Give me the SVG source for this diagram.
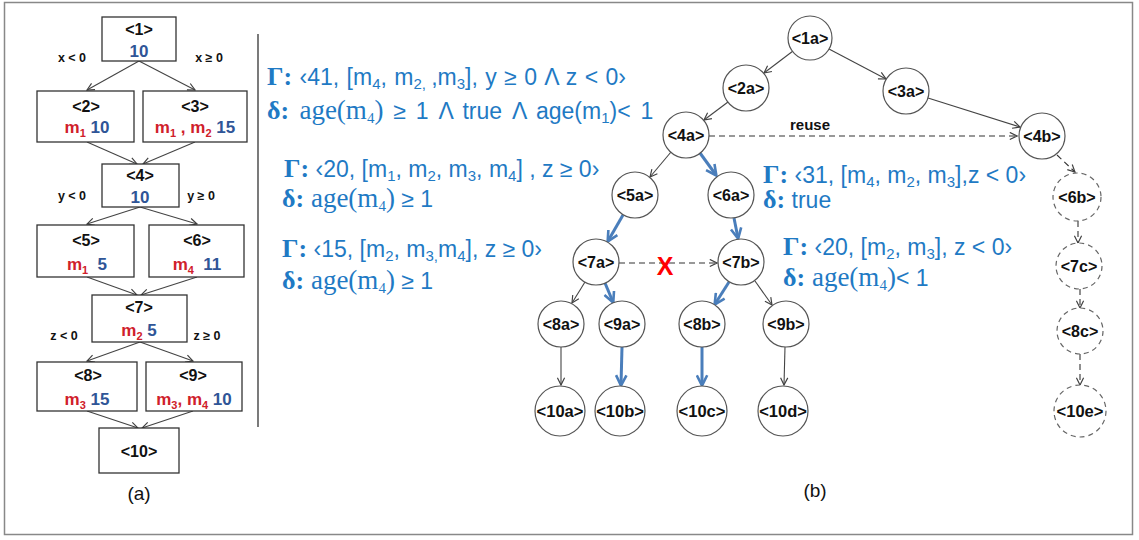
<svg xmlns="http://www.w3.org/2000/svg" width="1139" height="540" viewBox="0 0 1139 540">
<style>
.box{fill:#fff;stroke:#333;stroke-width:1.3}
.lbl{font-family:"Liberation Sans",Arial,sans-serif;font-weight:bold;font-size:16px;fill:#111;text-anchor:middle}
.v{font-family:"Liberation Sans",Arial,sans-serif;font-weight:bold;font-size:17px;text-anchor:middle}
.b{fill:#2f5597}
.r{fill:#d0202a}
.s{font-size:11px}
.el{font-family:"Liberation Sans",Arial,sans-serif;font-weight:bold;font-size:12.5px;fill:#111;text-anchor:middle}
.e{fill:none;stroke:#444;stroke-width:1.1}
.eb{fill:none;stroke:#4a7ebb;stroke-width:3}
.ed{fill:none;stroke:#333;stroke-width:1.1;stroke-dasharray:6 4}
.c{fill:#fff;stroke:#555;stroke-width:1.2}
.cd{fill:#fff;stroke:#666;stroke-width:1.2;stroke-dasharray:5 4}
.nl{font-family:"Liberation Sans",Arial,sans-serif;font-weight:bold;font-size:16px;fill:#111;text-anchor:middle}
.nl2{font-family:"Liberation Sans",Arial,sans-serif;font-weight:bold;font-size:16.5px;fill:#111;text-anchor:middle}
.ann{font-family:"Liberation Sans",Arial,sans-serif;font-size:23px;fill:#1f7ac4}
.G{font-family:"Liberation Serif","Times New Roman",serif;font-weight:bold;font-size:26px}
.ser{font-family:"Liberation Serif","Times New Roman",serif;font-size:27px}
.sb{font-size:15px}
.cap{font-family:"Liberation Sans",Arial,sans-serif;font-size:19px;fill:#111;text-anchor:middle}
</style>
<defs>
<marker id="ag" viewBox="0 0 10 10" refX="9" refY="5" markerWidth="9" markerHeight="9" markerUnits="userSpaceOnUse" orient="auto"><path d="M1,1 L9,5 L1,9" fill="none" stroke="#404040" stroke-width="1.3"/></marker>
<marker id="ab" viewBox="0 0 10 10" refX="8.5" refY="5" markerWidth="13" markerHeight="13" markerUnits="userSpaceOnUse" orient="auto"><path d="M1,1 L9,5 L1,9" fill="none" stroke="#4a7ebb" stroke-width="2"/></marker>
</defs>
<rect x="4.5" y="2.5" width="1128" height="532" fill="#fff" stroke="#888" stroke-width="1.5"/>
<line x1="258" y1="34" x2="258" y2="427" stroke="#333" stroke-width="1.3"/>

<g id="connectors-a">
<line class="e" x1="139" y1="61" x2="87" y2="90" marker-end="url(#ag)"/>
<line class="e" x1="139" y1="61" x2="195" y2="90" marker-end="url(#ag)"/>
<line class="e" x1="87" y1="142" x2="137" y2="164" marker-end="url(#ag)"/>
<line class="e" x1="195" y1="142" x2="143" y2="164" marker-end="url(#ag)"/>
<line class="e" x1="140" y1="207" x2="87" y2="224" marker-end="url(#ag)"/>
<line class="e" x1="140" y1="207" x2="197" y2="224" marker-end="url(#ag)"/>
<line class="e" x1="87" y1="277" x2="137" y2="295" marker-end="url(#ag)"/>
<line class="e" x1="197" y1="277" x2="141" y2="295" marker-end="url(#ag)"/>
<line class="e" x1="140" y1="342" x2="87" y2="361" marker-end="url(#ag)"/>
<line class="e" x1="140" y1="342" x2="193" y2="361" marker-end="url(#ag)"/>
<line class="e" x1="87" y1="411" x2="138" y2="428" marker-end="url(#ag)"/>
<line class="e" x1="193" y1="411" x2="142" y2="428" marker-end="url(#ag)"/>
</g>
<g id="edge-labels-a">
<text class="el" x="72" y="62">x &lt; 0</text>
<text class="el" x="209" y="62">x ≥ 0</text>
<text class="el" x="72" y="200">y &lt; 0</text>
<text class="el" x="201" y="200">y ≥ 0</text>
<text class="el" x="64" y="340">z &lt; 0</text>
<text class="el" x="207" y="340">z ≥ 0</text>
</g>
<g id="a1"><rect class="box" x="102" y="17" width="74" height="44"/><text class="lbl" x="139" y="35">&lt;1&gt;</text><text class="v b" x="139" y="57">10</text></g>
<g id="a2"><rect class="box" x="37" y="91" width="97" height="51"/><text class="lbl" x="86" y="112">&lt;2&gt;</text><text class="v" x="87" y="133"><tspan class="r">m</tspan><tspan class="r s" dy="4">1</tspan><tspan class="b" dy="-4"> 10</tspan></text></g>
<g id="a3"><rect class="box" x="143" y="91" width="104" height="51"/><text class="lbl" x="195" y="112">&lt;3&gt;</text><text class="v" x="195" y="133"><tspan class="r">m</tspan><tspan class="r s" dy="4">1</tspan><tspan class="r" dy="-4"> , m</tspan><tspan class="r s" dy="4">2</tspan><tspan class="b" dy="-4"> 15</tspan></text></g>
<g id="a4"><rect class="box" x="102" y="164" width="77" height="43"/><text class="lbl" x="140" y="181">&lt;4&gt;</text><text class="v b" x="140" y="203">10</text></g>
<g id="a5"><rect class="box" x="37" y="225" width="97" height="52"/><text class="lbl" x="86" y="246">&lt;5&gt;</text><text class="v" x="87" y="270" xml:space="preserve"><tspan class="r">m</tspan><tspan class="r s" dy="4">1</tspan><tspan class="b" dy="-4">  5</tspan></text></g>
<g id="a6"><rect class="box" x="149" y="225" width="95" height="52"/><text class="lbl" x="197" y="246">&lt;6&gt;</text><text class="v" x="197" y="270" xml:space="preserve"><tspan class="r">m</tspan><tspan class="r s" dy="4">4</tspan><tspan class="b" dy="-4">  11</tspan></text></g>
<g id="a7"><rect class="box" x="92" y="295" width="95" height="47"/><text class="lbl" x="139" y="313">&lt;7&gt;</text><text class="v" x="139" y="336"><tspan class="r">m</tspan><tspan class="r s" dy="4">2</tspan><tspan class="b" dy="-4"> 5</tspan></text></g>
<g id="a8"><rect class="box" x="37" y="362" width="100" height="49"/><text class="lbl" x="88" y="381">&lt;8&gt;</text><text class="v" x="87" y="405"><tspan class="r">m</tspan><tspan class="r s" dy="4">3</tspan><tspan class="b" dy="-4"> 15</tspan></text></g>
<g id="a9"><rect class="box" x="146" y="362" width="96" height="49"/><text class="lbl" x="193" y="381">&lt;9&gt;</text><text class="v" x="194" y="405"><tspan class="r">m</tspan><tspan class="r s" dy="4">3</tspan><tspan class="r" dy="-4">, m</tspan><tspan class="r s" dy="4">4</tspan><tspan class="b" dy="-4"> 10</tspan></text></g>
<g id="a10"><rect class="box" x="99" y="428" width="80" height="45"/><text class="lbl" x="139" y="457">&lt;10&gt;</text></g>
<text class="cap" x="139" y="500">(a)</text>

<g id="annotations">
<text class="ann" x="267" y="85" word-spacing="1"><tspan class="G">Γ:</tspan> ‹41, [m<tspan class="sb" dy="4">4</tspan><tspan dy="-4">, m</tspan><tspan class="sb" dy="4">2, </tspan><tspan dy="-4"> ,m</tspan><tspan class="sb" dy="4">3</tspan><tspan dy="-4">], y ≥ 0 Λ z &lt; 0›</tspan></text>
<text class="ann" x="267" y="119" word-spacing="3.5"><tspan class="G">δ:</tspan><tspan class="ser"> age(m</tspan><tspan class="ser sb" dy="4">4</tspan><tspan class="ser" dy="-4">)</tspan> ≥ 1 Λ true Λ age(m<tspan class="sb" dy="4">1</tspan><tspan dy="-4">)&lt; 1</tspan></text>
<text class="ann" x="284" y="177"><tspan class="G">Γ:</tspan> ‹20, [m<tspan class="sb" dy="4">1</tspan><tspan dy="-4">, m</tspan><tspan class="sb" dy="4">2</tspan><tspan dy="-4">, m</tspan><tspan class="sb" dy="4">3</tspan><tspan dy="-4">, m</tspan><tspan class="sb" dy="4">4</tspan><tspan dy="-4">] , z ≥ 0›</tspan></text>
<text class="ann" x="282" y="207"><tspan class="G">δ:</tspan><tspan class="ser"> age(m</tspan><tspan class="ser sb" dy="4">4</tspan><tspan class="ser" dy="-4">)</tspan> ≥ 1</text>
<text class="ann" x="282" y="257"><tspan class="G">Γ:</tspan> ‹15, [m<tspan class="sb" dy="4">2</tspan><tspan dy="-4">, m</tspan><tspan class="sb" dy="4">3,</tspan><tspan dy="-4">m</tspan><tspan class="sb" dy="4">4</tspan><tspan dy="-4">], z ≥ 0›</tspan></text>
<text class="ann" x="282" y="289"><tspan class="G">δ:</tspan><tspan class="ser"> age(m</tspan><tspan class="ser sb" dy="4">4</tspan><tspan class="ser" dy="-4">)</tspan> ≥ 1</text>
<text class="ann" x="763" y="183"><tspan class="G">Γ:</tspan> ‹31, [m<tspan class="sb" dy="4">4</tspan><tspan dy="-4">, m</tspan><tspan class="sb" dy="4">2</tspan><tspan dy="-4">, m</tspan><tspan class="sb" dy="4">3</tspan><tspan dy="-4">],z &lt; 0›</tspan></text>
<text class="ann" x="763" y="208"><tspan class="G">δ:</tspan> true</text>
<text class="ann" x="783" y="255"><tspan class="G">Γ:</tspan> ‹20, [m<tspan class="sb" dy="4">2</tspan><tspan dy="-4">, m</tspan><tspan class="sb" dy="4">3</tspan><tspan dy="-4">], z &lt; 0›</tspan></text>
<text class="ann" x="783" y="286"><tspan class="G">δ:</tspan><tspan class="ser"> age(m</tspan><tspan class="ser sb" dy="4">4</tspan><tspan class="ser" dy="-4">)</tspan>&lt; 1</text>
</g>

<g id="connectors-b">
<line class="e" x1="793" y1="51" x2="764" y2="73" marker-end="url(#ag)"/>
<line class="e" x1="829" y1="49" x2="886" y2="79" marker-end="url(#ag)"/>
<line class="e" x1="728" y1="102" x2="704" y2="120" marker-end="url(#ag)"/>
<line class="e" x1="928" y1="98" x2="1020" y2="127" marker-end="url(#ag)"/>
<line class="ed" x1="709" y1="136" x2="1017" y2="136" marker-end="url(#ag)"/>
<text x="810" y="130" style="font-family:'Liberation Sans',Arial,sans-serif;font-weight:bold;font-size:15px;fill:#111;text-anchor:middle">reuse</text>
<line class="e" x1="671" y1="152" x2="650" y2="177" marker-end="url(#ag)"/>
<line class="eb" x1="700" y1="153" x2="716" y2="175" marker-end="url(#ab)"/>
<line class="eb" x1="623" y1="215" x2="608" y2="241" marker-end="url(#ab)"/>
<line class="eb" x1="734" y1="218" x2="738" y2="238" marker-end="url(#ab)"/>
<line class="ed" x1="619" y1="263" x2="717" y2="263" marker-end="url(#ag)"/>
<line class="e" x1="585" y1="282" x2="572" y2="303" marker-end="url(#ag)"/>
<line class="eb" x1="605" y1="283" x2="613" y2="302" marker-end="url(#ab)"/>
<line class="eb" x1="729" y1="282" x2="715" y2="304" marker-end="url(#ab)"/>
<line class="e" x1="755" y1="281" x2="772" y2="305" marker-end="url(#ag)"/>
<line class="e" x1="561" y1="347" x2="561" y2="385" marker-end="url(#ag)"/>
<line class="eb" x1="622" y1="347" x2="621" y2="385" marker-end="url(#ab)"/>
<line class="eb" x1="702" y1="347" x2="702" y2="385" marker-end="url(#ab)"/>
<line class="e" x1="785" y1="347" x2="784" y2="385" marker-end="url(#ag)"/>
<line class="ed" x1="1057" y1="155" x2="1075" y2="172" marker-end="url(#ag)"/>
<line class="ed" x1="1078" y1="221" x2="1078" y2="243" marker-end="url(#ag)"/>
<line class="ed" x1="1080" y1="289" x2="1080" y2="308" marker-end="url(#ag)"/>
<line class="ed" x1="1080" y1="354" x2="1080" y2="385" marker-end="url(#ag)"/>
<text x="665" y="275" style="font-family:'Liberation Sans',Arial,sans-serif;font-weight:bold;font-size:25px;fill:#ff0000;text-anchor:middle">X</text>
</g>

<g id="n1a"><circle class="c" cx="810" cy="38" r="22"/><text class="nl" x="810" y="44">&lt;1a&gt;</text></g>
<g id="n2a"><circle class="c" cx="746" cy="88" r="23"/><text class="nl" x="746" y="94">&lt;2a&gt;</text></g>
<g id="n3a"><circle class="c" cx="906" cy="91" r="23"/><text class="nl" x="906" y="97">&lt;3a&gt;</text></g>
<g id="n4a"><circle class="c" cx="686" cy="135" r="23"/><text class="nl" x="686" y="141">&lt;4a&gt;</text></g>
<g id="n4b"><circle class="c" cx="1042" cy="136" r="23"/><text class="nl" x="1042" y="142">&lt;4b&gt;</text></g>
<g id="n5a"><circle class="c" cx="635" cy="195" r="23"/><text class="nl" x="635" y="201">&lt;5a&gt;</text></g>
<g id="n6a"><circle class="c" cx="731" cy="195" r="23"/><text class="nl" x="731" y="201">&lt;6a&gt;</text></g>
<g id="n7a"><circle class="c" cx="596" cy="262" r="23"/><text class="nl" x="596" y="268">&lt;7a&gt;</text></g>
<g id="n7b"><circle class="c" cx="741" cy="262" r="23"/><text class="nl" x="741" y="268">&lt;7b&gt;</text></g>
<g id="n8a"><circle class="c" cx="561" cy="324" r="23"/><text class="nl" x="561" y="330">&lt;8a&gt;</text></g>
<g id="n9a"><circle class="c" cx="622" cy="324" r="23"/><text class="nl" x="622" y="330">&lt;9a&gt;</text></g>
<g id="n8b"><circle class="c" cx="702" cy="324" r="23"/><text class="nl" x="702" y="330">&lt;8b&gt;</text></g>
<g id="n9b"><circle class="c" cx="786" cy="324" r="23"/><text class="nl" x="786" y="330">&lt;9b&gt;</text></g>
<g id="n10a"><circle class="c" cx="560" cy="411" r="25"/><text class="nl2" x="560" y="417">&lt;10a&gt;</text></g>
<g id="n10b"><circle class="c" cx="620" cy="411" r="25"/><text class="nl2" x="620" y="417">&lt;10b&gt;</text></g>
<g id="n10c"><circle class="c" cx="702" cy="411" r="25"/><text class="nl2" x="702" y="417">&lt;10c&gt;</text></g>
<g id="n10d"><circle class="c" cx="783" cy="411" r="25"/><text class="nl2" x="783" y="417">&lt;10d&gt;</text></g>
<g id="n6b"><circle class="cd" cx="1077" cy="197" r="24"/><text class="nl" x="1077" y="203">&lt;6b&gt;</text></g>
<g id="n7c"><circle class="cd" cx="1079" cy="266" r="23"/><text class="nl" x="1079" y="272">&lt;7c&gt;</text></g>
<g id="n8c"><circle class="cd" cx="1080" cy="331" r="23"/><text class="nl" x="1080" y="337">&lt;8c&gt;</text></g>
<g id="n10e"><circle class="cd" cx="1080" cy="411" r="26"/><text class="nl2" x="1080" y="417">&lt;10e&gt;</text></g>
<text class="cap" x="815" y="497">(b)</text>
</svg>
